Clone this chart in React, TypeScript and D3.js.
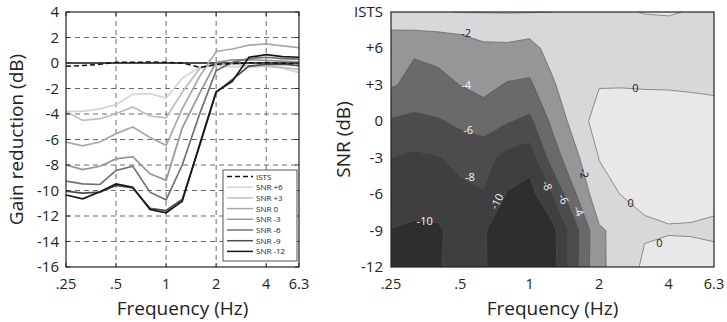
import * as d3 from 'd3'

// 1/3-octave frequencies (Hz) shared by both panels
const freqs = [0.25, 0.315, 0.4, 0.5, 0.63, 0.8, 1, 1.25, 1.6, 2, 2.5, 3.15, 4, 5, 6.3]
const freqTicks = [0.25, 0.5, 1, 2, 4, 6.3]
const freqTickLabels = ['.25', '.5', '1', '2', '4', '6.3']
const gainTicks = [4, 2, 0, -2, -4, -6, -8, -10, -12, -14, -16]
const snrTickLabels = ['-12', '-9', '-6', '-3', '0', '+3', '+6', 'ISTS']

// gain reduction (dB) per condition
const ists = [-0.25, -0.2, -0.1, 0.05, 0.05, 0.08, 0.05, 0, -0.35, -0.1, -0.05, 0.02, 0.03, -0.02, -0.05]
const snrP6 = [-3.8, -3.8, -3.6, -3.27, -2.46, -2.41, -2.75, -1.2, -0.3, -0.2, -0.3, -0.35, -0.25, -0.4, -0.75]
const snrP3 = [-3.8, -4.5, -4.37, -3.98, -3.45, -4.16, -4.31, -2.3, -0.4, -0.1, -0.1, -0.2, -0.25, -0.35, -0.5]
const snr0 = [-6.2, -6.5, -6.2, -5.54, -5.02, -5.85, -6.45, -3.6, -1.0, 0.9, 1.1, 1.4, 1.5, 1.35, 1.2]
const snrM3 = [-7.99, -8.36, -8.1, -7.52, -7.34, -8.69, -9.2, -5.1, -2.3, 0.05, 0.25, 0.25, 0.2, 0.15, 0.1]
const snrM6 = [-9.27, -9.48, -9.53, -8.43, -8.09, -10.13, -10.73, -8.0, -3.9, -0.6, 0.05, 0.35, 0.45, 0.35, 0.3]
const snrM9 = [-10.05, -10.2, -10.13, -9.6, -9.8, -11.4, -11.57, -10.7, -6.4, -2.3, -1.3, -0.25, -0.1, -0.1, -0.2]
const snrM12 = [-10.35, -10.65, -10.1, -9.48, -9.74, -11.49, -11.75, -10.85, -6.3, -2.25, -1.45, 0.45, 0.65, 0.5, 0.45]

const seriesNames = ['SNR +6', 'SNR +3', 'SNR 0', 'SNR -3', 'SNR -6', 'SNR -9', 'SNR -12']
const seriesValues = [snrP6, snrP3, snr0, snrM3, snrM6, snrM9, snrM12]
const seriesColors = ['#d4d4d4', '#bdbdbd', '#a9a9a9', '#979797', '#707070', '#4a4a4a', '#161616']

// contour panel rows, bottom to top
const gridRows = [snrM12, snrM9, snrM6, snrM3, snr0, snrP3, snrP6, ists]
const contourLevels = [-10, -8, -6, -4, -2, 0]
const contourFills = ['#2e2e30', '#3f3f41', '#4c4c4e', '#6a6a6c', '#969698', '#d7d8da', '#e8e8ea']

// contour labels: freq (Hz), snr (dB, ISTS = 9), rotation
const contourLabels = [
  { text: '-2', f: 0.53, snr: 7.3, rot: 0, dark: true },
  { text: '-4', f: 0.53, snr: 3.0, rot: 0, dark: false },
  { text: '-6', f: 0.54, snr: -0.7, rot: 0, dark: false },
  { text: '-8', f: 0.55, snr: -4.6, rot: 0, dark: false },
  { text: '-10', f: 0.35, snr: -8.2, rot: 0, dark: false },
  { text: '-10', f: 0.72, snr: -6.6, rot: -62, dark: false },
  { text: '-8', f: 1.19, snr: -5.3, rot: 68, dark: false },
  { text: '-6', f: 1.4, snr: -6.4, rot: 65, dark: false },
  { text: '-4', f: 1.63, snr: -7.4, rot: 65, dark: false },
  { text: '-2', f: 1.72, snr: -4.3, rot: 80, dark: true },
  { text: '0', f: 2.87, snr: 2.75, rot: 0, dark: true },
  { text: '0', f: 2.74, snr: -6.7, rot: 0, dark: true },
  { text: '0', f: 3.65, snr: -10.0, rot: 0, dark: true },
]

const FONT = "'Open Sans', 'Noto Sans', sans-serif"
const L = { left: 66, right: 299, top: 12, bottom: 267 }
const R = { left: 391, right: 714, top: 12, bottom: 267 }

export default function App() {
  const xL = d3.scaleLog().domain([0.25, 6.3]).range([L.left, L.right])
  const yL = d3.scaleLinear().domain([-16, 4]).range([L.bottom, L.top])
  const xR = d3.scaleLog().domain([0.25, 6.3]).range([R.left, R.right])
  const fxIdx = d3.scaleLinear().domain(d3.range(freqs.length)).range(freqs.map(f => xR(f)))
  const yR = d3.scaleLinear().domain([0, 7]).range([R.bottom, R.top])

  const line = d3.line<number>()
    .x((_, i) => xL(freqs[i]))
    .y(d => yL(d))

  // filled contours straight from the same grid
  const contours = d3.contours()
    .size([freqs.length, gridRows.length])
    .thresholds(contourLevels)(gridRows.flat())
  const proj = d3.geoTransform({
    point(x: number, y: number) {
      this.stream.point(fxIdx(x - 0.5), yR(y - 0.5))
    }
  })
  const cPath = d3.geoPath(proj)

  const legendX = 223
  const legendY = 170
  const legendItems = ['ISTS', ...seriesNames]

  return (
    <svg width={727} height={322} style={{ position: 'absolute', left: 0, top: 0, background: '#fff' }} fontFamily={FONT}>
      <defs>
        <clipPath id="clipR">
          <rect x={R.left} y={R.top} width={R.right - R.left} height={R.bottom - R.top} />
        </clipPath>
      </defs>

      {/* ---------- left panel ---------- */}
      <g>
        {gainTicks.filter(t => t !== 0 && t !== 4 && t !== -16).map(t => (
          <line key={'gy' + t} x1={L.left} x2={L.right} y1={yL(t)} y2={yL(t)}
            stroke="#6a6a6a" strokeWidth={1} strokeDasharray="5,4" />
        ))}
        {freqTicks.slice(1, -1).map(f => (
          <line key={'gx' + f} x1={xL(f)} x2={xL(f)} y1={L.top} y2={L.bottom}
            stroke="#6a6a6a" strokeWidth={1} strokeDasharray="5,4" />
        ))}
        <line x1={L.left} x2={L.right} y1={yL(0)} y2={yL(0)} stroke="#111" strokeWidth={1.6} />
        {seriesValues.map((vals, i) => (
          <path key={seriesNames[i]} d={line(vals) || ''} fill="none" stroke={seriesColors[i]} strokeWidth={1.7} />
        ))}
        <path d={line(ists) || ''} fill="none" stroke="#111" strokeWidth={1.5} strokeDasharray="5,3" />

        {/* inward ticks */}
        {gainTicks.map(t => (
          <g key={'ty' + t}>
            <line x1={L.left} x2={L.left + 4} y1={yL(t)} y2={yL(t)} stroke="#333" />
            <line x1={L.right} x2={L.right - 4} y1={yL(t)} y2={yL(t)} stroke="#333" />
          </g>
        ))}
        {freqTicks.map(f => (
          <g key={'tx' + f}>
            <line x1={xL(f)} x2={xL(f)} y1={L.bottom} y2={L.bottom - 4} stroke="#333" />
            <line x1={xL(f)} x2={xL(f)} y1={L.top} y2={L.top + 4} stroke="#333" />
          </g>
        ))}
        <rect x={L.left} y={L.top} width={L.right - L.left} height={L.bottom - L.top}
          fill="none" stroke="#222" strokeWidth={1.2} />

        {/* legend */}
        <rect x={legendX} y={legendY} width={74} height={91} fill="#fff" stroke="#444" strokeWidth={0.9} />
        {legendItems.map((name, i) => {
          const y = legendY + 6.5 + i * 10.7
          return (
            <g key={'lg' + name}>
              <line x1={legendX + 4} x2={legendX + 30} y1={y} y2={y}
                stroke={i === 0 ? '#111' : seriesColors[i - 1]}
                strokeWidth={1.5} strokeDasharray={i === 0 ? '5,3' : undefined} />
              <text x={legendX + 33} y={y + 3} fontSize={8} fill="#222">{name}</text>
            </g>
          )
        })}

        {gainTicks.map(t => (
          <text key={'ly' + t} x={L.left - 7} y={yL(t) + 5} fontSize={15} textAnchor="end" fill="#222">{t}</text>
        ))}
        {freqTicks.map((f, i) => (
          <text key={'lx' + f} x={xL(f)} y={289} fontSize={14.5} textAnchor="middle" fill="#222">{freqTickLabels[i]}</text>
        ))}
        <text x={(L.left + L.right) / 2} y={315} fontSize={19} textAnchor="middle" fill="#222">Frequency (Hz)</text>
        <text transform={`translate(23,${(L.top + L.bottom) / 2}) rotate(-90)`} fontSize={19} textAnchor="middle" fill="#222">
          Gain reduction (dB)
        </text>
      </g>

      {/* ---------- right panel ---------- */}
      <g clipPath="url(#clipR)">
        <rect x={R.left} y={R.top} width={R.right - R.left} height={R.bottom - R.top} fill={contourFills[0]} />
        {contours.map((c, i) => (
          <path key={'cf' + i} d={cPath(c as any) || ''} fill={contourFills[i + 1]} stroke="none" />
        ))}
        {contours.map((c, i) => (
          <path key={'cl' + i} d={cPath(c as any) || ''} fill="none" stroke="#505050" strokeWidth={0.6} />
        ))}
        {contourLabels.map((lb, i) => {
          const x = xR(lb.f)
          const y = yR((lb.snr + 12) / 3)
          return (
            <text key={'lbl' + i} transform={`translate(${x},${y}) rotate(${lb.rot})`} fontSize={11}
              textAnchor="middle" dy="0.35em" fill={lb.dark ? '#222' : '#f4f4f4'}>{lb.text}</text>
          )
        })}
      </g>
      <rect x={R.left} y={R.top} width={R.right - R.left} height={R.bottom - R.top}
        fill="none" stroke="#222" strokeWidth={1.2} />
      {snrTickLabels.map((s, i) => (
        <text key={'ry' + s} x={R.left - 8} y={yR(i) + 5} fontSize={15} textAnchor="end" fill="#222">{s}</text>
      ))}
      {freqTicks.map((f, i) => (
        <text key={'rx' + f} x={xR(f)} y={289} fontSize={14.5} textAnchor="middle" fill="#222">{freqTickLabels[i]}</text>
      ))}
      <text x={(R.left + R.right) / 2} y={315} fontSize={19} textAnchor="middle" fill="#222">Frequency (Hz)</text>
      <text transform={`translate(350,${(R.top + R.bottom) / 2}) rotate(-90)`} fontSize={19} textAnchor="middle" fill="#222">
        SNR (dB)
      </text>
    </svg>
  )
}
